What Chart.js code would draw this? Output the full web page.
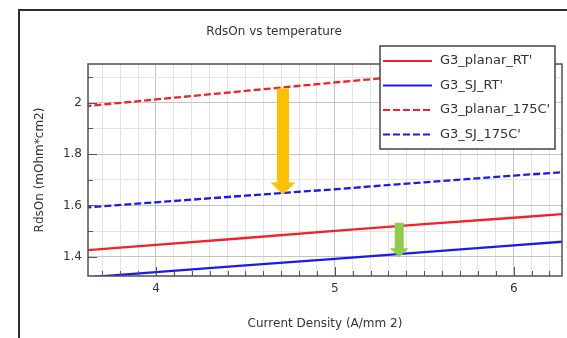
<!DOCTYPE html>
<html>
<head>
<meta charset="utf-8">
<script src="https://cdn.jsdelivr.net/npm/chart.js@4/dist/chart.umd.min.js"></script>
<style>
html,body{margin:0;padding:0;background:#fff;}
#wrap{width:567px;height:338px;}
</style>
</head>
<body>
<div id="wrap"><canvas id="c" width="567" height="338"></canvas></div>
<script>
// current density points (A/mm2) and RdsOn readings
const density = [3.6, 4.0, 4.5, 5.0, 5.5, 6.0, 6.3];
const planarRT = [1.425, 1.446, 1.473, 1.501, 1.527, 1.552, 1.568];
const sjRT = [1.319, 1.340, 1.366, 1.392, 1.418, 1.444, 1.460];
const planar175 = [1.986, 2.013, 2.046, 2.079, 2.110, 2.140, 2.158];
const sj175 = [1.591, 1.612, 1.638, 1.663, 1.690, 1.716, 1.731];
const seriesNames = ["G3_planar_RT'", "G3_SJ_RT'", "G3_planar_175C'", "G3_SJ_175C'"];
const xTickLabels = [4, 5, 6];
const yTickLabels = [1.4, 1.6, 1.8, 2];

// arrows (data coords)
const arrows = [
  {x: 4.71, from: 2.056, to: 1.643, color: '#FFC000', shaft: 12, head: 25, headLen: 12},
  {x: 5.36, from: 1.532, to: 1.398, color: '#8FCB4C', shaft: 9, head: 19, headLen: 9}
];

const FONT = "'DejaVu Sans', sans-serif";
const pts = ys => density.map((x, i) => ({x: x, y: ys[i]}));
const isMajor = (v, list) => list.some(t => Math.abs(t - v) < 1e-6);

const extras = {
  id: 'extras',
  beforeDraw(chart){
    const {ctx} = chart;
    ctx.save();
    ctx.fillStyle = '#fff';
    ctx.fillRect(0, 0, chart.width, chart.height);
    ctx.restore();
  },
  afterDatasetsDraw(chart){
    const {ctx, chartArea: a, scales: {x, y}} = chart;
    ctx.save();
    // arrows
    arrows.forEach(ar => {
      const cx = x.getPixelForValue(ar.x), y0 = y.getPixelForValue(ar.from), y1 = y.getPixelForValue(ar.to);
      ctx.fillStyle = ar.color;
      ctx.beginPath();
      ctx.moveTo(cx - ar.shaft/2, y0);
      ctx.lineTo(cx + ar.shaft/2, y0);
      ctx.lineTo(cx + ar.shaft/2, y1 - ar.headLen);
      ctx.lineTo(cx + ar.head/2, y1 - ar.headLen);
      ctx.lineTo(cx, y1);
      ctx.lineTo(cx - ar.head/2, y1 - ar.headLen);
      ctx.lineTo(cx - ar.shaft/2, y1 - ar.headLen);
      ctx.closePath();
      ctx.fill();
    });
    // inner tick marks
    ctx.strokeStyle = '#555';
    ctx.lineWidth = 1;
    x.ticks.forEach(t => {
      if (t.value <= x.min + 1e-6 || t.value >= x.max - 1e-6) return;
      const px = Math.round(x.getPixelForValue(t.value)) + 0.5;
      const len = isMajor(t.value, xTickLabels) ? 9 : 5;
      ctx.beginPath(); ctx.moveTo(px, a.bottom); ctx.lineTo(px, a.bottom - len); ctx.stroke();
    });
    y.ticks.forEach(t => {
      if (t.value <= y.min + 1e-6 || t.value >= y.max - 1e-6) return;
      const py = Math.round(y.getPixelForValue(t.value)) + 0.5;
      const len = isMajor(t.value, yTickLabels) ? 9 : 5;
      ctx.beginPath(); ctx.moveTo(a.left, py); ctx.lineTo(a.left + len, py); ctx.stroke();
    });
    // plot frame
    ctx.strokeStyle = '#505050';
    ctx.lineWidth = 1.5;
    ctx.strokeRect(a.left, a.top, a.right - a.left, a.bottom - a.top);
    // outer frame
    ctx.strokeStyle = '#2e2e2e';
    ctx.lineWidth = 2;
    ctx.strokeRect(19, 10, 700, 500);
    // title
    ctx.fillStyle = '#333';
    ctx.font = '12px ' + FONT;
    ctx.textAlign = 'center';
    ctx.textBaseline = 'middle';
    ctx.fillText('RdsOn vs temperature', 274, 32);
    // legend
    const lx = 380, ly = 46, lw = 175, lh = 103;
    ctx.fillStyle = '#fff';
    ctx.fillRect(lx, ly, lw, lh);
    ctx.strokeStyle = '#444';
    ctx.lineWidth = 1.5;
    ctx.strokeRect(lx, ly, lw, lh);
    ctx.font = '13px ' + FONT;
    ctx.textAlign = 'left';
    chart.data.datasets.forEach((ds, i) => {
      const ry = ly + 15 + i * 24.5;
      ctx.strokeStyle = ds.borderColor;
      ctx.lineWidth = 2.2;
      ctx.setLineDash(ds.borderDash || []);
      ctx.beginPath(); ctx.moveTo(lx + 3, ry); ctx.lineTo(lx + 52, ry); ctx.stroke();
      ctx.setLineDash([]);
      ctx.fillStyle = '#333';
      ctx.fillText(ds.label, lx + 60, ry);
    });
    ctx.restore();
  }
};

new Chart(document.getElementById('c'), {
  type: 'line',
  data: {
    datasets: [
      {label: seriesNames[0], data: pts(planarRT), borderColor: '#F0232A', borderWidth: 2.3},
      {label: seriesNames[1], data: pts(sjRT), borderColor: '#1A1AF0', borderWidth: 2.3},
      {label: seriesNames[2], data: pts(planar175), borderColor: '#F0232A', borderWidth: 2.3, borderDash: [7, 3]},
      {label: seriesNames[3], data: pts(sj175), borderColor: '#1A1AF0', borderWidth: 2.3, borderDash: [7, 3]}
    ]
  },
  options: {
    responsive: false,
    animation: false,
    devicePixelRatio: 1,
    layout: {padding: {left: 20, top: 64, right: 5, bottom: 0}},
    elements: {point: {radius: 0}, line: {tension: 0, fill: false}},
    plugins: {legend: {display: false}, title: {display: false}, tooltip: {enabled: false}},
    scales: {
      x: {
        type: 'linear', min: 3.62, max: 6.27,
        afterFit(s){ s.height = 62; },
        afterBuildTicks(s){
          const t = [];
          for (let v = 37; v <= 62; v++) t.push({value: v / 10});
          s.ticks = t;
        },
        grid: {
          drawTicks: false,
          color: c => isMajor(c.tick.value, xTickLabels) ? '#c4c4c4' : '#e4e4e4',
          lineWidth: 1
        },
        border: {display: false},
        ticks: {
          padding: 6, color: '#333', font: {family: FONT, size: 12},
          autoSkip: false, maxRotation: 0,
          callback: v => isMajor(v, xTickLabels) ? String(Math.round(v)) : ''
        },
        title: {display: true, text: 'Current Density (A/mm 2)', color: '#333',
          font: {family: FONT, size: 12}, padding: {top: 0, bottom: 7}}
      },
      y: {
        type: 'linear', min: 1.325, max: 2.151,
        afterFit(s){ s.width = 68; },
        afterBuildTicks(s){
          const t = [];
          for (let v = 14; v <= 21; v++) t.push({value: v / 10});
          s.ticks = t;
        },
        grid: {
          drawTicks: false,
          color: c => isMajor(c.tick.value, yTickLabels) ? '#c4c4c4' : '#e4e4e4',
          lineWidth: 1
        },
        border: {display: false},
        ticks: {
          padding: 6, color: '#333', font: {family: FONT, size: 12},
          autoSkip: false,
          callback: v => isMajor(v, yTickLabels) ? String(v) : ''
        },
        title: {display: true, text: 'RdsOn (mOhm*cm2)', color: '#333',
          font: {family: FONT, size: 12}, padding: {top: 13, bottom: 0}}
      }
    }
  },
  plugins: [extras]
});
</script>
</body>
</html>
